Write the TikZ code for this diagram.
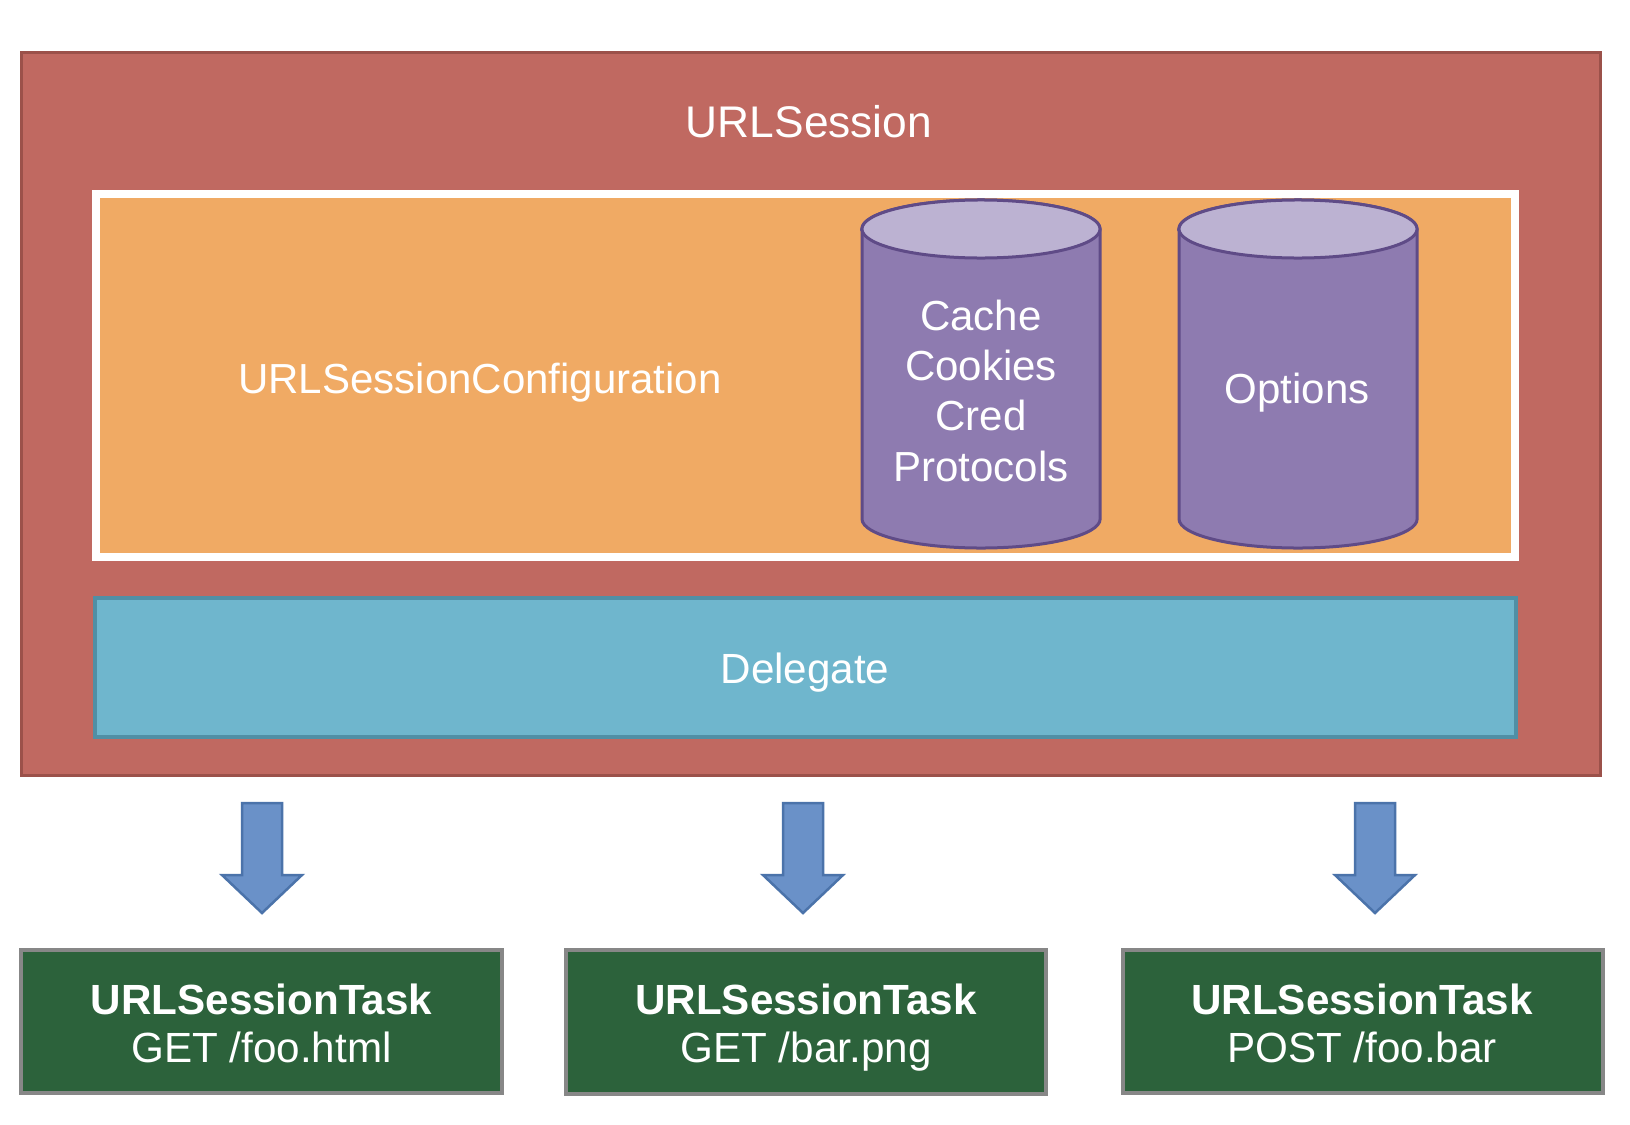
\documentclass[tikz,border=0pt]{standalone}
\usepackage{fontspec}
\setmainfont{Liberation Sans}
\definecolor{sessionfill}{HTML}{C06961}
\definecolor{sessionedge}{HTML}{9B514A}
\definecolor{configfill}{HTML}{F0AA64}
\definecolor{storebody}{HTML}{8E7BB0}
\definecolor{storetop}{HTML}{BCB2D2}
\definecolor{storeedge}{HTML}{5F4B87}
\definecolor{delegatefill}{HTML}{6FB6CD}
\definecolor{delegateedge}{HTML}{508FA5}
\definecolor{arrowfill}{HTML}{6A91C8}
\definecolor{arrowedge}{HTML}{4B73AA}
\definecolor{taskfill}{HTML}{2C623B}
\definecolor{taskedge}{HTML}{878787}
\begin{document}
\begin{tikzpicture}[x=0.01cm,y=-0.01cm,
  panel/.style={draw, rectangle, inner sep=0pt, anchor=center},
  lbl/.style={text=white, inner sep=0pt, anchor=base,
    font=\fontsize{11.95}{14.23}\selectfont},
  tasklbl/.style={lbl, align=center, font=\fontsize{12}{13.37}\selectfont},
  taskbox/.style={panel, draw=taskedge, fill=taskfill, line width=0.04cm,
    minimum width=4.80cm, minimum height=1.43cm},
  blockarrow/.style={fill=arrowfill, draw=arrowedge, line width=0.025cm, line join=miter},
  store/.pic={
    \path[fill=storebody, draw=storeedge, line width=0.03cm]
      (-119,0) -- (-119,290)
      arc[start angle=180, end angle=360, x radius=1.19cm, y radius=0.29cm]
      -- (119,0)
      arc[start angle=0, end angle=180, x radius=1.19cm, y radius=0.29cm]
      -- cycle;
    \path[fill=storetop, draw=storeedge, line width=0.03cm]
      (0,0) ellipse[x radius=1.19cm, y radius=0.29cm];
  }]
\useasboundingbox (0,0) rectangle (1630,1124);
\fill[white] (0,0) rectangle (1630,1124);

% session container
\node[panel, draw=sessionedge, fill=sessionfill, line width=0.03cm,
  minimum width=15.79cm, minimum height=7.23cm] (session) at (811,414) {};
\node[lbl, font=\fontsize{12.6}{15}\selectfont] (sessiontitle) at (809,137) {URLSession};

% configuration panel with its two stores
\node[panel, draw=white, fill=configfill, line width=0.08cm,
  minimum width=14.19cm, minimum height=3.63cm] (config) at (805.5,375.5) {};
\node[lbl] (configlabel) at (480,393) {URLSessionConfiguration};

\pic (cachestore) at (981,229) {store};
\pic (optionstore) at (1298,229) {store};
% a multi-line label sits on the baseline of its last line
\node[lbl, align=center] (cachelabel) at (981,481) {Cache\\Cookies\\Cred\\Protocols};
\node[lbl] (optionlabel) at (1297,403) {Options};

% delegate
\node[panel, draw=delegateedge, fill=delegatefill, line width=0.04cm,
  minimum width=14.21cm, minimum height=1.39cm] (delegate) at (805.5,667.5) {};
\node[lbl, font=\fontsize{12}{14}\selectfont] (delegatelabel) at (805,683) {Delegate};

% block arrows down to the tasks
\foreach \cx in {262,803,1375}{
  \path[blockarrow, shift={(\cx,0)}]
    (-20,803) -- (20,803) -- (20,875) -- (40,875) -- (0,913)
    -- (-40,875) -- (-20,875) -- cycle;
}

% tasks
\node[taskbox] (taskone) at (261.5,1021.5) {};
\node[taskbox] (tasktwo) at (806,1022) {};
\node[taskbox] (taskthree) at (1363,1021.5) {};
\node[tasklbl] (taskonelabel) at (261.5,1062) {\textbf{URLSessionTask}\\GET /foo.html};
\node[tasklbl] (tasktwolabel) at (806,1062) {\textbf{URLSessionTask}\\GET /bar.png};
\node[tasklbl] (taskthreelabel) at (1362,1062) {\textbf{URLSessionTask}\\POST /foo.bar};
\end{tikzpicture}
\end{document}
